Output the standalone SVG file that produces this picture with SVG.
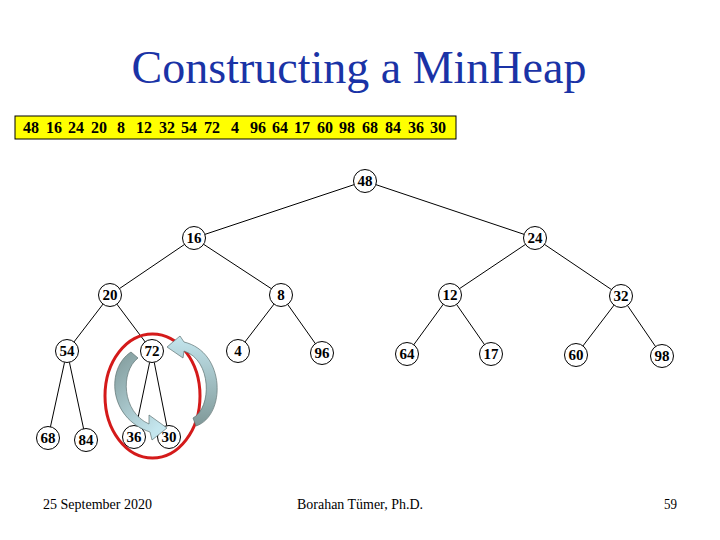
<svg xmlns="http://www.w3.org/2000/svg" width="720" height="540" viewBox="0 0 720 540">
<style>
.title{font-family:"Liberation Serif","Times New Roman",serif;font-size:46px;fill:#1a33a6}
.arr{font-family:"Liberation Serif","Times New Roman",serif;font-size:16px;font-weight:bold;fill:#000;text-anchor:middle}
.node circle{fill:#fff;stroke:#000;stroke-width:1}
.node text{font-family:"Liberation Serif","Times New Roman",serif;font-size:15px;font-weight:bold;fill:#000;text-anchor:middle}
#edges line{stroke:#000;stroke-width:1}
.foot{font-family:"Liberation Serif","Times New Roman",serif;font-size:14px;fill:#000}
.barrow{stroke:#5f7373;stroke-width:0.7}
</style>
<defs>
<linearGradient id="g1" x1="0" y1="0" x2="0.6" y2="1">
<stop offset="0" stop-color="#7f9898"/>
<stop offset="1" stop-color="#c4e6ee"/>
</linearGradient>
<linearGradient id="g2" x1="0" y1="1" x2="0" y2="0">
<stop offset="0" stop-color="#7f9898"/>
<stop offset="1" stop-color="#c4e6ee"/>
</linearGradient>
</defs>
<rect width="720" height="540" fill="#fff"/>
<text class="title" x="359" y="83" text-anchor="middle">Constructing a MinHeap</text>
<g id="array">
<rect x="15" y="116" width="441" height="23" fill="#ffff00" stroke="#000" stroke-width="1"/>
<text class="arr" x="31" y="133">48</text>
<text class="arr" x="54" y="133">16</text>
<text class="arr" x="76" y="133">24</text>
<text class="arr" x="99" y="133">20</text>
<text class="arr" x="121" y="133">8</text>
<text class="arr" x="144" y="133">12</text>
<text class="arr" x="167" y="133">32</text>
<text class="arr" x="189" y="133">54</text>
<text class="arr" x="212" y="133">72</text>
<text class="arr" x="235" y="133">4</text>
<text class="arr" x="258" y="133">96</text>
<text class="arr" x="280" y="133">64</text>
<text class="arr" x="302" y="133">17</text>
<text class="arr" x="325" y="133">60</text>
<text class="arr" x="347" y="133">98</text>
<text class="arr" x="370" y="133">68</text>
<text class="arr" x="393" y="133">84</text>
<text class="arr" x="416" y="133">36</text>
<text class="arr" x="438" y="133">30</text>
</g>
<g id="edges">
<line x1="365" y1="181" x2="194" y2="238"/>
<line x1="365" y1="181" x2="535" y2="238"/>
<line x1="194" y1="238" x2="110" y2="295"/>
<line x1="194" y1="238" x2="281" y2="295"/>
<line x1="535" y1="238" x2="450" y2="295"/>
<line x1="535" y1="238" x2="621" y2="296"/>
<line x1="110" y1="295" x2="67" y2="351"/>
<line x1="110" y1="295" x2="152" y2="351"/>
<line x1="281" y1="295" x2="238" y2="351"/>
<line x1="281" y1="295" x2="322" y2="353"/>
<line x1="450" y1="295" x2="407" y2="354"/>
<line x1="450" y1="295" x2="491" y2="354"/>
<line x1="621" y1="296" x2="576" y2="355"/>
<line x1="621" y1="296" x2="662" y2="356"/>
<line x1="67" y1="351" x2="48" y2="438"/>
<line x1="67" y1="351" x2="86" y2="440"/>
<line x1="152" y1="351" x2="134" y2="437"/>
<line x1="152" y1="351" x2="169" y2="437"/>
</g>
<g id="n48" class="node"><circle cx="365" cy="181" r="11.5"/><text x="365" y="186">48</text></g>
<g id="n16" class="node"><circle cx="194" cy="238" r="11.5"/><text x="194" y="243">16</text></g>
<g id="n24" class="node"><circle cx="535" cy="238" r="11.5"/><text x="535" y="243">24</text></g>
<g id="n20" class="node"><circle cx="110" cy="295" r="11.5"/><text x="110" y="300">20</text></g>
<g id="n8" class="node"><circle cx="281" cy="295" r="11.5"/><text x="281" y="300">8</text></g>
<g id="n12" class="node"><circle cx="450" cy="295" r="11.5"/><text x="450" y="300">12</text></g>
<g id="n32" class="node"><circle cx="621" cy="296" r="11.5"/><text x="621" y="301">32</text></g>
<g id="n54" class="node"><circle cx="67" cy="351" r="11.5"/><text x="67" y="356">54</text></g>
<g id="n72" class="node"><circle cx="152" cy="351" r="11.5"/><text x="152" y="356">72</text></g>
<g id="n4" class="node"><circle cx="238" cy="351" r="11.5"/><text x="238" y="356">4</text></g>
<g id="n96" class="node"><circle cx="322" cy="353" r="11.5"/><text x="322" y="358">96</text></g>
<g id="n64" class="node"><circle cx="407" cy="354" r="11.5"/><text x="407" y="359">64</text></g>
<g id="n17" class="node"><circle cx="491" cy="354" r="11.5"/><text x="491" y="359">17</text></g>
<g id="n60" class="node"><circle cx="576" cy="355" r="11.5"/><text x="576" y="360">60</text></g>
<g id="n98" class="node"><circle cx="662" cy="356" r="11.5"/><text x="662" y="361">98</text></g>
<g id="n68" class="node"><circle cx="48" cy="438" r="11.5"/><text x="48" y="443">68</text></g>
<g id="n84" class="node"><circle cx="86" cy="440" r="11.5"/><text x="86" y="445">84</text></g>
<g id="n36" class="node"><circle cx="134" cy="437" r="11.5"/><text x="134" y="442">36</text></g>
<g id="n30" class="node"><circle cx="169" cy="437" r="11.5"/><text x="169" y="442">30</text></g>
<g id="highlight">
<ellipse cx="152.5" cy="396" rx="47.5" ry="62" fill="none" stroke="#d41a1a" stroke-width="3"/>
<path class="barrow" fill="url(#g1)" d="M131,352 C106,368 108,418 150,432 L152,440 L167,428 L149,415 L149,424 C122,412 120,372 138,358 Z"/>
<path class="barrow" fill="url(#g2)" d="M196,426 C226,416 226,352 184,342 L180,336 L167,347 L183,358 L184,351 C212,360 212,408 193,418 Z"/>
</g>
<text class="foot" x="43" y="509" textLength="109" lengthAdjust="spacingAndGlyphs">25 September 2020</text>
<text class="foot" x="297" y="509" textLength="126" lengthAdjust="spacingAndGlyphs">Borahan Tümer, Ph.D.</text>
<text class="foot" x="664" y="509" textLength="13" lengthAdjust="spacingAndGlyphs">59</text>
</svg>
